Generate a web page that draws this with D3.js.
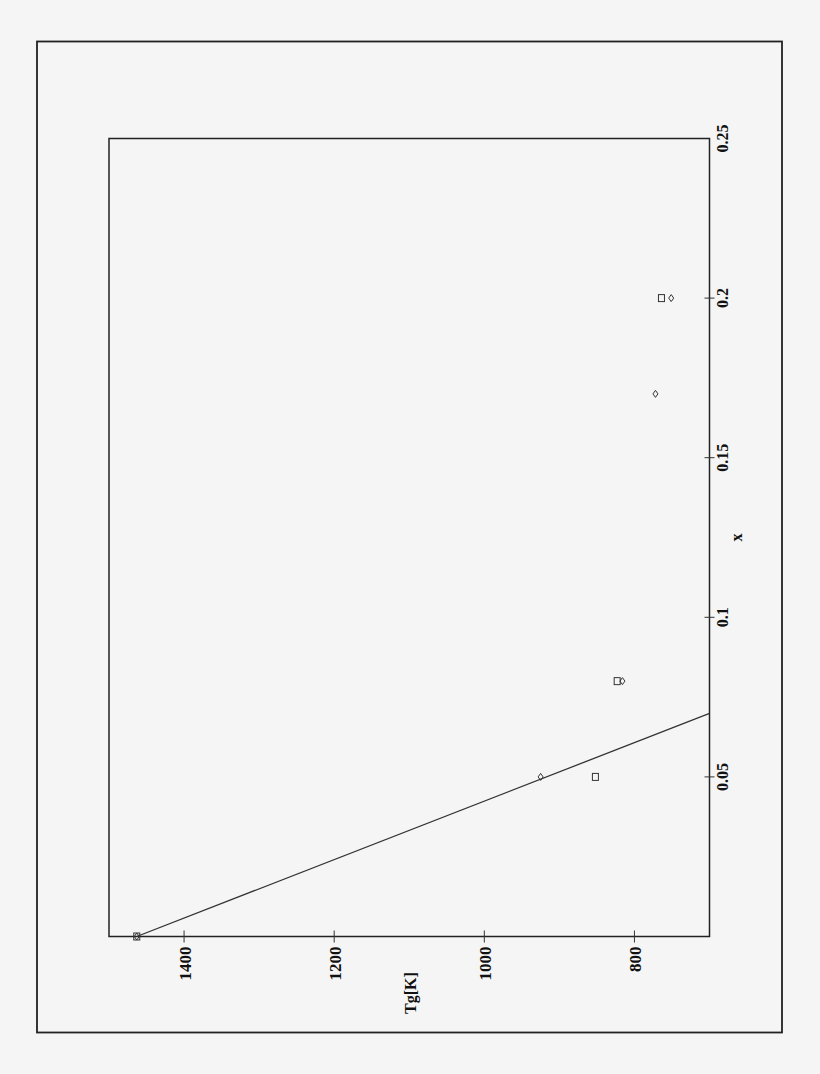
<!DOCTYPE html>
<html><head><meta charset="utf-8">
<script src="https://cdn.jsdelivr.net/npm/d3@7"></script>
<style>html,body{margin:0;padding:0;background:#f5f5f5;}svg{display:block;}</style>
</head><body>
<script>
// Data (chart is drawn rotated 90° counter-clockwise)
const xTicks = [0.05, 0.1, 0.15, 0.2, 0.25];
const xTickLabels = ["0.05", "0.1", "0.15", "0.2", "0.25"];
const tgTicks = [800, 1000, 1200, 1400];
const tgTickLabels = ["800", "1000", "1200", "1400"];
const squareX = [0, 0.05, 0.08, 0.2];
const squareTg = [1463, 852, 823, 764];
const diamondX = [0, 0.05, 0.08, 0.17, 0.2];
const diamondTg = [1463, 925, 816, 772, 751];
const lineX = [0, 0.0699];
const lineTg = [1463, 700];

const W = 820, H = 1074;
const svg = d3.select("body").append("svg").attr("width", W).attr("height", H);
svg.append("rect").attr("width", W).attr("height", H).attr("fill", "#f5f5f5");

// outer frame
svg.append("rect").attr("x", 37).attr("y", 41.5).attr("width", 745).attr("height", 991)
  .attr("fill", "none").attr("stroke", "#222").attr("stroke-width", 1.8);

const L = 109, R = 709.5, T = 138.5, B = 936.5;
const tg = d3.scaleLinear().domain([1500, 700]).range([L, R]);
const xs = d3.scaleLinear().domain([0, 0.25]).range([B, T]);

// plot frame
svg.append("rect").attr("x", L).attr("y", T).attr("width", R - L).attr("height", B - T)
  .attr("fill", "none").attr("stroke", "#222").attr("stroke-width", 1.5);

const font = "'Liberation Serif','Times New Roman',serif";

// Tg axis ticks (bottom)
const gT = svg.append("g");
tgTicks.forEach((v, i) => {
  const px = tg(v);
  gT.append("line").attr("x1", px).attr("x2", px).attr("y1", B - 6).attr("y2", B + 6)
    .attr("stroke", "#333").attr("stroke-width", 1);
  gT.append("text").attr("transform", `translate(${px + 7},${B + 10}) rotate(-90)`)
    .attr("text-anchor", "end").attr("font-family", font).attr("font-weight", "bold")
    .attr("font-size", 17).attr("fill", "#111").text(tgTickLabels[i]);
});

// x axis ticks (right)
const gX = svg.append("g");
xTicks.forEach((v, i) => {
  const py = xs(v);
  if (v < 0.25) gX.append("line").attr("x1", R - 5).attr("x2", R + 5).attr("y1", py).attr("y2", py)
    .attr("stroke", "#333").attr("stroke-width", 1);
  gX.append("text").attr("transform", `translate(${R + 18},${py}) rotate(-90)`)
    .attr("text-anchor", "middle").attr("font-family", font).attr("font-weight", "bold")
    .attr("font-size", 16).attr("fill", "#111").text(xTickLabels[i]);
});

// axis titles
svg.append("text").attr("transform", `translate(${(L + R) / 2 + 7},${993}) rotate(-90)`)
  .attr("text-anchor", "middle").attr("font-family", font).attr("font-weight", "bold")
  .attr("font-size", 16).attr("fill", "#111").text("Tg[K]");
svg.append("text").attr("transform", `translate(742,${(T + B) / 2}) rotate(-90)`)
  .attr("text-anchor", "middle").attr("font-family", font).attr("font-weight", "bold")
  .attr("font-size", 16).attr("fill", "#111").text("x");

// fitted line
const lineData = lineX.map((x, i) => ({ x, t: lineTg[i] }));
svg.append("path").datum(lineData)
  .attr("d", d3.line().x(d => tg(d.t)).y(d => xs(d.x)))
  .attr("fill", "none").attr("stroke", "#333").attr("stroke-width", 1.3);

// squares
svg.append("g").selectAll("rect").data(squareX.map((x, i) => ({ x, t: squareTg[i] })))
  .join("rect")
  .attr("x", d => tg(d.t) - 3).attr("y", d => xs(d.x) - 3.5)
  .attr("width", 6).attr("height", 7)
  .attr("fill", "none").attr("stroke", "#333").attr("stroke-width", 1);

// diamonds
svg.append("g").selectAll("path").data(diamondX.map((x, i) => ({ x, t: diamondTg[i] })))
  .join("path")
  .attr("d", d => {
    const cx = tg(d.t), cy = xs(d.x);
    return `M${cx},${cy - 3.5}L${cx + 2.5},${cy}L${cx},${cy + 3.5}L${cx - 2.5},${cy}Z`;
  })
  .attr("fill", "none").attr("stroke", "#333").attr("stroke-width", 1);
</script>
</body></html>
